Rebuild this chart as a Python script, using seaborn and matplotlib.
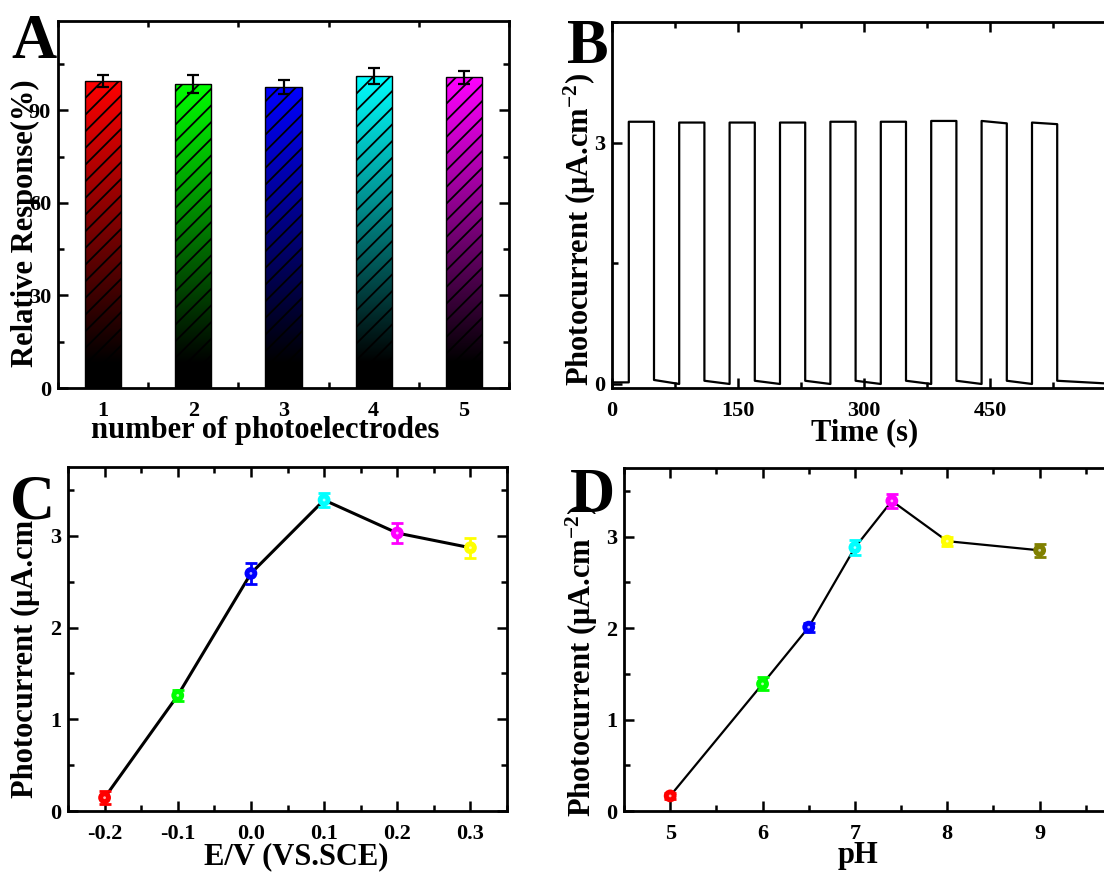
import numpy as np
import pandas as pd
import matplotlib
matplotlib.use("Agg")
import matplotlib.pyplot as plt
import seaborn as sns
from matplotlib.ticker import MultipleLocator
from matplotlib.colors import to_rgb

# ------------------------------------------------------------------
# data
# ------------------------------------------------------------------
# A: reproducibility of photoelectrodes
electrode_labels = ["1", "2", "3", "4", "5"]
relative_response = [99.6, 98.6, 97.6, 101.2, 100.7]
response_err = [2.0, 2.8, 2.4, 2.6, 2.2]
bar_colors = ["#FF0000", "#00FF00", "#0000FF", "#00FFFF", "#FF00FF"]

# B: on/off photocurrent response (light on 20-50 s, every 60 s)
time_s = [0, 20, 20, 50, 50, 80, 80, 110, 110, 140, 140, 170, 170, 200,
          200, 230, 230, 260, 260, 290, 290, 320, 320, 350, 350, 380,
          380, 410, 410, 440, 440, 470, 470, 500, 500, 530, 530, 600]
photocurrent_b = [0.02, 0.02, 3.26, 3.26, 0.05, 0.00, 3.25, 3.25, 0.04, 0.00,
                  3.25, 3.25, 0.04, 0.00, 3.25, 3.25, 0.04, 0.00, 3.26, 3.26,
                  0.04, 0.00, 3.26, 3.26, 0.04, 0.00, 3.27, 3.27, 0.04, 0.00,
                  3.27, 3.24, 0.04, 0.00, 3.25, 3.23, 0.04, 0.00]

# C: effect of applied potential
potential_v = [-0.2, -0.1, 0.0, 0.1, 0.2, 0.3]
photocurrent_c = [0.145, 1.26, 2.59, 3.39, 3.03, 2.87]
err_c = [0.07, 0.06, 0.11, 0.08, 0.11, 0.11]
colors_c = ["#FF0000", "#00FF00", "#0000FF", "#00FFFF", "#FF00FF", "#FFFF00"]

# D: effect of pH
ph_values = [5, 6, 6.5, 7, 7.4, 8, 9]
photocurrent_d = [0.165, 1.39, 2.01, 2.88, 3.39, 2.95, 2.85]
err_d = [0.03, 0.07, 0.05, 0.08, 0.08, 0.05, 0.07]
colors_d = ["#FF0000", "#00FF00", "#0000FF", "#00FFFF", "#FF00FF", "#FFFF00", "#808000"]

# ------------------------------------------------------------------
# style
# ------------------------------------------------------------------
sns.set_theme(style="ticks")
plt.rcParams["font.family"] = ["Liberation Serif", "DejaVu Serif"]
plt.rcParams["font.weight"] = "bold"
plt.rcParams["axes.labelweight"] = "bold"
plt.rcParams["axes.labelcolor"] = "black"
plt.rcParams["text.color"] = "black"
plt.rcParams["xtick.color"] = "black"
plt.rcParams["ytick.color"] = "black"
plt.rcParams["mathtext.fontset"] = "custom"
plt.rcParams["mathtext.rm"] = "Liberation Serif:bold"
plt.rcParams["mathtext.bf"] = "Liberation Serif:bold"
plt.rcParams["mathtext.default"] = "bf"
plt.rcParams["hatch.linewidth"] = 1.3

W, H = 1104, 872
fig = plt.figure(figsize=(W / 100, H / 100), dpi=100)


def box(left, top, right, bottom):
    return [left / W, 1 - bottom / H, (right - left) / W, (bottom - top) / H]


def fxy(x, y):
    return (x / W, 1 - y / H)


def style_axis(ax):
    for s in ax.spines.values():
        s.set_linewidth(2)
        s.set_color("black")
    ax.tick_params(which="both", direction="in", top=True, right=True,
                   width=1.8, labelsize=16, colors="black")
    ax.tick_params(which="major", length=7, pad=5)
    ax.tick_params(which="minor", length=4)
    ax.tick_params(axis="x", which="major", pad=9)
    for lab in ax.get_xticklabels() + ax.get_yticklabels():
        lab.set_fontweight("bold")
    ax.xaxis.label.set_color("black")
    ax.yaxis.label.set_color("black")


label_kw = dict(fontsize=22, fontweight="bold", color="black")

# ------------------------------------------------------------------
# A  bar chart with gradient + hatch
# ------------------------------------------------------------------
axA = fig.add_axes(box(58, 21, 509, 388))
dfA = pd.DataFrame({"n": electrode_labels, "resp": relative_response})
sns.barplot(data=dfA, x="n", y="resp", order=electrode_labels, width=0.4,
            palette=bar_colors, hue="n", legend=False, errorbar=None, ax=axA)

for patch, col in zip(axA.patches, bar_colors):
    x0, y0 = patch.get_x(), patch.get_y()
    w, h = patch.get_width(), patch.get_height()
    t = np.linspace(0, 1, 256)
    t = np.clip((t - 0.08) / 0.92, 0, 1)[::-1]
    grad = t[:, None, None] * np.array(to_rgb(col))[None, None, :]
    im = axA.imshow(grad, extent=[x0, x0 + w, y0, y0 + h], aspect="auto",
                    origin="upper", zorder=1)
    im.set_clip_path(patch)
    patch.set_facecolor("none")
    patch.set_edgecolor("black")
    patch.set_hatch("//")
    patch.set_linewidth(1.0)
    patch.set_zorder(2)

axA.errorbar(range(len(relative_response)), relative_response, yerr=response_err,
             fmt="none", ecolor="black", elinewidth=1.6, capsize=4.5, capthick=1.6,
             zorder=3)
axA.set_xlim(-0.5, 4.5)
axA.set_ylim(0, 119)
axA.yaxis.set_major_locator(MultipleLocator(30))
axA.yaxis.set_minor_locator(MultipleLocator(15))
axA.xaxis.set_minor_locator(MultipleLocator(0.5))
axA.set_xticks(range(5))
axA.set_xticklabels(electrode_labels)
axA.set_xlabel("number of photoelectrodes", **label_kw)
axA.set_ylabel("Relative Response(%)", **label_kw)
axA.xaxis.set_label_coords(*fxy(265, 430), transform=fig.transFigure)
axA.yaxis.set_label_coords(*fxy(25, 223), transform=fig.transFigure)
axA.xaxis.label.set_va("center")
axA.yaxis.label.set_va("center")
style_axis(axA)
axA.tick_params(axis="x", which="major", length=0)

# ------------------------------------------------------------------
# B  i-t curve
# ------------------------------------------------------------------
axB = fig.add_axes(box(612, 22, 1116, 388))
sns.lineplot(x=time_s, y=photocurrent_b, sort=False, estimator=None,
             color="black", linewidth=1.6, ax=axB)
axB.set_xlim(0, 600)
axB.set_ylim(-0.05, 4.5)
axB.set_xticks([0, 150, 300, 450])
axB.xaxis.set_minor_locator(MultipleLocator(75))
axB.yaxis.set_major_locator(MultipleLocator(3))
axB.yaxis.set_minor_locator(MultipleLocator(1.5))
axB.set_xlabel("Time (s)", **label_kw)
axB.set_ylabel(r"Photocurrent (μA.cm$^{-2}$)", **label_kw)
axB.xaxis.set_label_coords(*fxy(865, 433), transform=fig.transFigure)
axB.yaxis.set_label_coords(*fxy(580, 230), transform=fig.transFigure)
axB.xaxis.label.set_va("center")
axB.yaxis.label.set_va("center")
style_axis(axB)


# ------------------------------------------------------------------
# C, D  point-line charts with coloured error bars
# ------------------------------------------------------------------
def point_line(ax, xs, ys, errs, cols, lw):
    sns.lineplot(x=xs, y=ys, color="black", linewidth=lw, sort=False,
                 estimator=None, ax=ax, zorder=2)
    for x, y, e, c in zip(xs, ys, errs, cols):
        ax.errorbar(x, y, yerr=e, fmt="none", ecolor=c, elinewidth=2,
                    capsize=4.5, capthick=2, zorder=3)
    df = pd.DataFrame({"x": xs, "y": ys, "k": [str(i) for i in range(len(xs))]})
    sns.scatterplot(data=df, x="x", y="y", hue="k", palette=cols, s=85,
                    edgecolor="none", legend=False, ax=ax, zorder=4)
    sns.scatterplot(data=df, x="x", y="y", color="white", s=4,
                    edgecolor="none", legend=False, ax=ax, zorder=5, alpha=0.7)
    ax.set_xlabel("")
    ax.set_ylabel("")


axC = fig.add_axes(box(68, 467, 507, 811))
point_line(axC, potential_v, photocurrent_c, err_c, colors_c, 2.2)
axC.set_xlim(-0.25, 0.35)
axC.set_ylim(0, 3.75)
axC.xaxis.set_minor_locator(MultipleLocator(0.05))
axC.yaxis.set_major_locator(MultipleLocator(1))
axC.yaxis.set_minor_locator(MultipleLocator(0.5))
axC.set_xticks(potential_v)
axC.set_xticklabels(["-0.2", "-0.1", "0.0", "0.1", "0.2", "0.3"])
axC.set_xlabel("E/V (VS.SCE)", **label_kw)
axC.set_ylabel("Photocurrent (μA.cm", **label_kw)
axC.xaxis.set_label_coords(*fxy(296, 857), transform=fig.transFigure)
axC.yaxis.set_label_coords(*fxy(25, 659), transform=fig.transFigure)
axC.xaxis.label.set_va("center")
axC.yaxis.label.set_va("center")
style_axis(axC)

axD = fig.add_axes(box(624, 468, 1132, 811))
point_line(axD, ph_values, photocurrent_d, err_d, colors_d, 1.6)
axD.set_xlim(4.5, 10)
axD.set_ylim(0, 3.75)
axD.set_xticks([5, 6, 7, 8, 9])
axD.xaxis.set_minor_locator(MultipleLocator(0.5))
axD.yaxis.set_major_locator(MultipleLocator(1))
axD.yaxis.set_minor_locator(MultipleLocator(0.5))
axD.set_xlabel("pH", **label_kw)
axD.set_ylabel(r"Photocurrent (μA.cm$^{-2}$)", **label_kw)
axD.xaxis.set_label_coords(*fxy(858, 855), transform=fig.transFigure)
axD.yaxis.set_label_coords(*fxy(582, 661), transform=fig.transFigure)
axD.xaxis.label.set_va("center")
axD.yaxis.label.set_va("center")
style_axis(axD)

# panel letters
for letter, (x, y) in zip("ABCD", [(34, 58), (588, 63), (33, 518), (592, 512)]):
    fig.text(*fxy(x, y), letter, fontsize=45, fontweight="bold", ha="center",
             va="baseline", color="black")

fig.savefig("out.png", dpi=100)
